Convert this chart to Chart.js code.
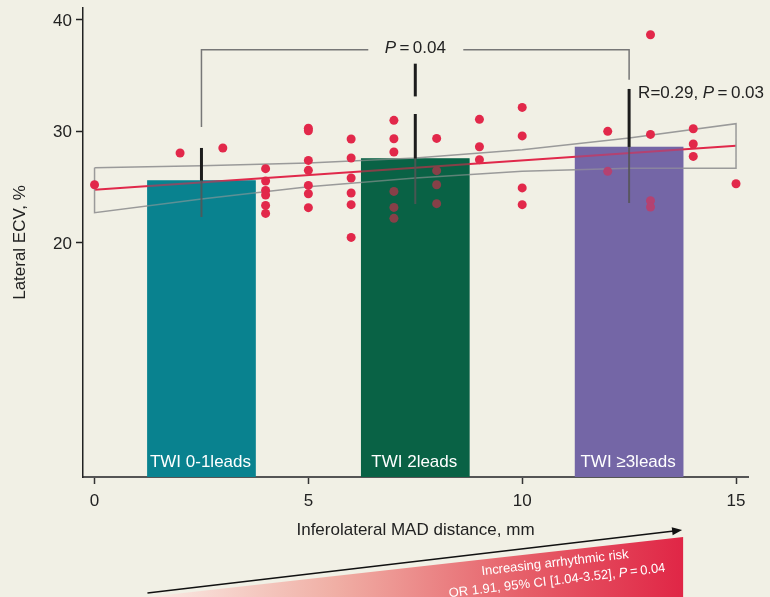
<!DOCTYPE html>
<html>
<head>
<meta charset="utf-8">
<script src="https://cdn.jsdelivr.net/npm/chart.js@4"></script>
<style>
  html, body { margin: 0; padding: 0; background: #f1f0e5; }
  canvas { display: block; }
</style>
</head>
<body>
<canvas id="myChart" width="770" height="597"></canvas>
<script>
// 軸
var xTicks = [0, 5, 10, 15];
var yTicks = [20, 30, 40];
var xMin = -0.27, xMax = 15.28;
var yMin = -1.07, yMax = 41.05;

// TWI 棒グラフ
var barLabels = ['TWI 0-1leads', 'TWI 2leads', 'TWI \u22653leads'];
var barX = [2.5, 7.5, 12.5];
var barY = [25.54, 27.52, 28.57];
var errHigh = [28.48, 36.05, 33.78];
var errLow = [22.28, 23.45, 23.54];
var errGap = [null, [33.11, 31.53], null];
var barColors = ['#0a8290', '#0a6246', '#7466a6'];

// 散布図の点
var dotX = [0, 2, 3,
  4, 4, 4, 4, 4, 4,
  5, 5, 5, 5, 5, 5, 5,
  6, 6, 6, 6, 6, 6,
  7, 7, 7, 7, 7, 7,
  8, 8, 8, 8,
  9, 9, 9,
  10, 10, 10, 10,
  12, 12,
  13, 13, 13, 13,
  14, 14, 14,
  15];
var dotY = [25.18, 28.03, 28.48,
  26.62, 25.51, 24.67, 24.26, 23.32, 22.60,
  30.26, 30.03, 27.36, 26.47, 25.12, 24.37, 23.12,
  29.29, 27.58, 25.78, 24.44, 23.39, 20.45,
  30.96, 29.31, 28.12, 24.58, 23.14, 22.16,
  29.34, 26.44, 25.18, 23.48,
  31.05, 28.59, 27.43,
  32.12, 29.56, 24.89, 23.39,
  29.97, 26.38,
  38.65, 29.70, 23.74, 23.18,
  30.21, 28.84, 27.72,
  25.27];

// 回帰直線と信頼区間
var fitX = [0, 15];
var fitY = [24.73, 28.68];
var bandX = [0, 2.5, 5, 7.5, 10, 12.5, 15];
var bandUpper = [26.71, 26.88, 27.12, 27.57, 28.33, 29.38, 30.66];
var bandLower = [22.67, 23.90, 24.99, 25.78, 26.39, 26.66, 26.65];

// ブラケット (P=0.04)
var bracketY = 37.31, bracketLeftEnd = 30.36, bracketRightEnd = 34.61;

var FONT = '"Liberation Sans", Arial, sans-serif';
var TEXT = '#222';

var band = [];
bandX.forEach(function (x, i) { band.push({x: x, y: bandUpper[i]}); });
for (var i = bandX.length - 1; i >= 0; i--) band.push({x: bandX[i], y: bandLower[i]});
band.push({x: bandX[0], y: bandUpper[0]});

function line(ctx, x1, y1, x2, y2) {
  ctx.beginPath(); ctx.moveTo(x1, y1); ctx.lineTo(x2, y2); ctx.stroke();
}

// parts: [text, italic]
function drawParts(ctx, parts, x, y, size, align, color) {
  var total = 0;
  parts.forEach(function (p) {
    ctx.font = (p[1] ? 'italic ' : '') + size + 'px ' + FONT;
    total += ctx.measureText(p[0]).width;
  });
  var cx = align === 'center' ? x - total / 2 : x;
  ctx.textAlign = 'left';
  ctx.textBaseline = 'middle';
  ctx.fillStyle = color;
  parts.forEach(function (p) {
    ctx.font = (p[1] ? 'italic ' : '') + size + 'px ' + FONT;
    ctx.fillText(p[0], cx, y);
    cx += ctx.measureText(p[0]).width;
  });
  return total;
}

var extras = {
  id: 'extras',
  afterDatasetsDraw: function (chart) {
    var ctx = chart.ctx, ys = chart.scales.y;
    var bars = chart.getDatasetMeta(0).data.map(function (b) {
      return b.getProps(['x', 'y', 'base', 'width'], true);
    });
    ctx.save();

    // 棒の内側を半透明で重ねる
    bars.forEach(function (b, i) {
      ctx.globalAlpha = 0.42;
      ctx.fillStyle = barColors[i];
      ctx.fillRect(b.x - b.width / 2, b.y, b.width, b.base - b.y);
    });
    ctx.globalAlpha = 1;

    // エラーバー
    bars.forEach(function (b, i) {
      var top = ys.getPixelForValue(errHigh[i]);
      var low = ys.getPixelForValue(errLow[i]);
      ctx.strokeStyle = '#1c1c1c';
      ctx.lineWidth = 3;
      if (errGap[i]) {
        line(ctx, b.x, top, b.x, ys.getPixelForValue(errGap[i][0]));
        line(ctx, b.x, ys.getPixelForValue(errGap[i][1]), b.x, b.y);
      } else {
        line(ctx, b.x, top, b.x, b.y);
      }
      ctx.strokeStyle = 'rgba(85,85,85,0.85)';
      ctx.lineWidth = 2;
      line(ctx, b.x, b.y, b.x, low);
    });

    // 棒のラベル
    ctx.fillStyle = '#ffffff';
    ctx.font = '17px ' + FONT;
    ctx.textAlign = 'center';
    ctx.textBaseline = 'middle';
    bars.forEach(function (b, i) {
      ctx.fillText(barLabels[i], b.x - 1, b.base - 15);
    });

    // ブラケット
    var by = ys.getPixelForValue(bracketY);
    var l = bars[0].x, r = bars[2].x, m = bars[1].x;
    ctx.strokeStyle = '#777';
    ctx.lineWidth = 1.5;
    ctx.beginPath();
    ctx.moveTo(l, ys.getPixelForValue(bracketLeftEnd));
    ctx.lineTo(l, by);
    ctx.lineTo(m - 47, by);
    ctx.moveTo(m + 48, by);
    ctx.lineTo(r, by);
    ctx.lineTo(r, ys.getPixelForValue(bracketRightEnd));
    ctx.stroke();
    drawParts(ctx, [['P', true], ['\u2009=\u2009', false], ['0.04', false]], m, by - 1, 17, 'center', TEXT);

    // 相関
    drawParts(ctx, [['R=0.29, ', false], ['P', true], ['\u2009=\u2009', false], ['0.03', false]],
      r + 9, ys.getPixelForValue(33.4), 17, 'left', TEXT);

    // 下の三角形と矢印
    var left = bars[0].x - bars[0].width / 2;
    var right = bars[2].x + bars[2].width / 2;
    var bottom = chart.height;
    var g = ctx.createLinearGradient(left, 0, right, 0);
    g.addColorStop(0, 'rgba(250,236,230,1)');
    g.addColorStop(0.35, 'rgb(240,175,165)');
    g.addColorStop(0.7, 'rgb(230,95,105)');
    g.addColorStop(1, 'rgb(224,38,70)');
    ctx.fillStyle = g;
    ctx.beginPath();
    ctx.moveTo(left, bottom);
    ctx.lineTo(right, bottom - 60);
    ctx.lineTo(right, bottom);
    ctx.closePath();
    ctx.fill();

    var ax1 = left, ay1 = bottom - 4, ax2 = right - 1, ay2 = bottom - 67;
    var ang = Math.atan2(ay2 - ay1, ax2 - ax1);
    ctx.strokeStyle = '#111';
    ctx.lineWidth = 1.5;
    line(ctx, ax1, ay1, ax2 - 6 * Math.cos(ang), ay2 - 6 * Math.sin(ang));
    ctx.fillStyle = '#111';
    ctx.beginPath();
    ctx.moveTo(ax2, ay2);
    ctx.lineTo(ax2 - 10 * Math.cos(ang) + 4 * Math.sin(ang), ay2 - 10 * Math.sin(ang) - 4 * Math.cos(ang));
    ctx.lineTo(ax2 - 10 * Math.cos(ang) - 4 * Math.sin(ang), ay2 - 10 * Math.sin(ang) + 4 * Math.cos(ang));
    ctx.closePath();
    ctx.fill();

    ctx.translate(555, 563);
    ctx.rotate(ang);
    drawParts(ctx, [['Increasing arrhythmic risk', false]], 0, 0, 13, 'center', '#fff');
    drawParts(ctx, [['OR 1.91, 95% CI [1.04-3.52], ', false], ['P', true], ['\u2009=\u2009', false], ['0.04', false]],
      0, 18, 13, 'center', '#fff');
    ctx.restore();
  }
};

var ctx = document.getElementById('myChart').getContext('2d');
var myChart = new Chart(ctx, {
  type: 'scatter',
  data: {
    datasets: [{
      type: 'bar',
      data: barX.map(function (x, i) { return {x: x, y: barY[i]}; }),
      backgroundColor: barColors,
      barThickness: 108,
      base: yMin,
      order: 3
    }, {
      type: 'scatter',
      data: band,
      showLine: true,
      borderColor: '#9a9a9a',
      borderWidth: 1.5,
      pointRadius: 0,
      order: 2
    }, {
      type: 'scatter',
      data: fitX.map(function (x, i) { return {x: x, y: fitY[i]}; }),
      showLine: true,
      borderColor: '#e0284a',
      borderWidth: 2,
      pointRadius: 0,
      order: 2
    }, {
      type: 'scatter',
      data: dotX.map(function (x, i) { return {x: x, y: dotY[i]}; }),
      backgroundColor: '#e2284a',
      pointRadius: 4.5,
      borderWidth: 0,
      order: 1
    }]
  },
  options: {
    responsive: false,
    animation: false,
    devicePixelRatio: 1,
    layout: { padding: { left: 0, right: 22, top: 8, bottom: 0 } },
    plugins: { legend: { display: false }, tooltip: { enabled: false } },
    scales: {
      x: {
        type: 'linear',
        min: xMin, max: xMax,
        offset: false,
        afterBuildTicks: function (s) { s.ticks = xTicks.map(function (v) { return {value: v}; }); },
        afterFit: function (s) { s.height = 120; s.paddingLeft = 0; s.paddingRight = 0; },
        grid: { drawOnChartArea: false, offset: false, tickLength: 7, tickColor: '#333', tickWidth: 1.5 },
        border: { color: '#555', width: 2 },
        ticks: { color: TEXT, font: { size: 17, family: FONT }, padding: 7, maxRotation: 0 },
        title: { display: true, text: 'Inferolateral MAD distance, mm', color: TEXT,
          font: { size: 17, family: FONT }, padding: { top: 4, bottom: 56 } }
      },
      y: {
        min: yMin, max: yMax,
        afterBuildTicks: function (s) { s.ticks = yTicks.map(function (v) { return {value: v}; }); },
        afterFit: function (s) { s.width = 83; s.paddingTop = 0; s.paddingBottom = 0; },
        grid: { drawOnChartArea: false, tickLength: 7, tickColor: '#222', tickWidth: 1.5 },
        border: { color: '#222', width: 1.5 },
        ticks: { color: TEXT, font: { size: 17, family: FONT }, padding: 4, labelOffset: 1.5 },
        title: { display: true, text: 'Lateral ECV, %', color: TEXT,
          font: { size: 17, family: FONT }, padding: { top: 10, bottom: 4 } }
      }
    }
  },
  plugins: [extras]
});
</script>
</body>
</html>
